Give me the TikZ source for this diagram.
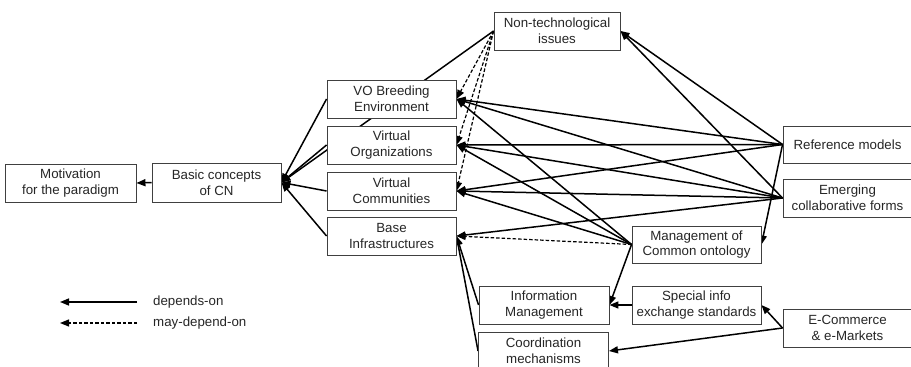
\documentclass[tikz,border=0pt]{standalone}
\usepackage{fontspec}
\setmainfont{Liberation Sans}
\usetikzlibrary{arrows.meta,backgrounds}
\begin{document}
\begin{tikzpicture}[x=1pt,y=-1pt,
  box/.style={draw=black!75, line width=0.9pt, fill=white, minimum width=129pt,
    minimum height=38pt, align=center, inner sep=0pt, text=black!85,
    font=\fontsize{13.3}{15.7}\selectfont},
  dep/.style={-{Triangle[length=9pt,width=7pt]}, line width=1.5pt, black},
  may/.style={dep, line width=1.2pt, dash pattern=on 3.5pt off 2pt},
  lbl/.style={anchor=west, inner sep=0pt, text=black!85, font=\fontsize{13.3}{15.7}\selectfont}]
\useasboundingbox (0,0) rectangle (911,367);
\node[box, minimum width=131pt] (mot) at (70.5,183) {Motivation\\for the paradigm};
\node[box, minimum height=39pt] (basic) at (216.5,182.5) {Basic concepts\\of CN};
\node[box] (vo) at (391.5,99) {VO Breeding\\Environment};
\node[box] (vorg) at (391.5,145) {Virtual\\Organizations};
\node[box] (vcom) at (391.5,191) {Virtual\\Communities};
\node[box] (base) at (391.5,236) {Base\\Infrastructures};
\node[box, minimum width=126pt] (nontech) at (557,31) {Non-technological\\issues};
\node[box, minimum height=37pt] (ref) at (847.5,144.5) {Reference models};
\node[box] (emerg) at (847.5,198) {Emerging\\collaborative forms};
\node[box, minimum height=37pt] (mgmt) at (696.5,244.5) {Management of\\Common ontology};
\node[box, minimum width=130pt] (info) at (544,305) {Information\\Management};
\node[box, minimum width=130pt] (coord) at (543.5,351) {Coordination\\mechanisms};
\node[box] (special) at (696.5,305) {Special info\\exchange standards};
\node[box] (ecom) at (847.5,328) {E-Commerce\\\& e-Markets};
\coordinate (l1a) at (137,302);
\coordinate (l1b) at (60,302);
\coordinate (l2a) at (137,323);
\coordinate (l2b) at (60,323);
\node[lbl] (t1) at (153,302) {depends-on};
\node[lbl] (t2) at (153,323) {may-depend-on};
\begin{scope}[on background layer]
\draw[dep] (basic.west) -- (mot.east);
\foreach \n in {vo,vorg,vcom,base,nontech}
  \draw[dep] (\n.west) -- (basic.east);
\foreach \n in {vo,vorg,vcom}
  \draw[may] (nontech.west) -- (\n.east);
\foreach \n in {vo,vorg,vcom}
  \draw[dep] (ref.west) -- (\n.east);
\draw[dep] (ref.west) -- (nontech.east);
\draw[dep] (ref.west) -- (mgmt.east);
\foreach \n in {vo,vorg,vcom,base}
  \draw[dep] (emerg.west) -- (\n.east);
\draw[dep] (emerg.west) -- (nontech.east);
\foreach \n in {vo,vorg,vcom,info}
  \draw[dep] (mgmt.west) -- (\n.east);
\draw[may] (mgmt.west) -- (base.east);
\draw[dep] (info.west) -- (base.east);
\draw[dep] (coord.west) -- (base.east);
\draw[dep] (special.west) -- (info.east);
\draw[dep] (ecom.west) -- (special.east);
\draw[dep] (ecom.west) -- (coord.east);
\end{scope}
\draw[dep] (l1a) -- (l1b);
\draw[may] (l2a) -- (l2b);
\end{tikzpicture}
\end{document}
